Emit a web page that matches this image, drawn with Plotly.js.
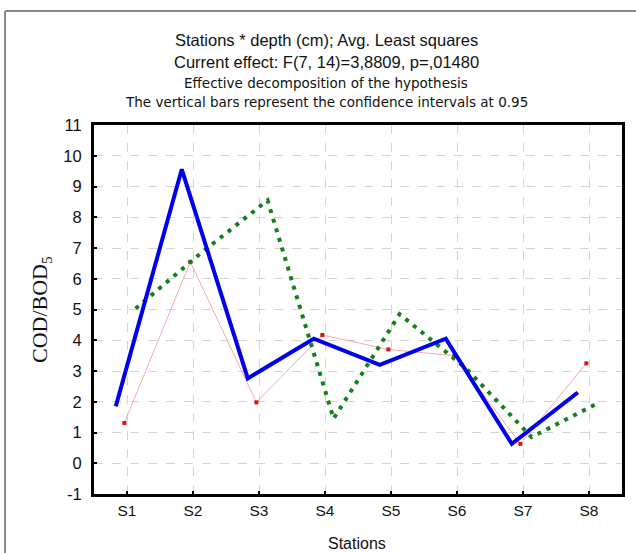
<!DOCTYPE html>
<html>
<head>
<meta charset="utf-8">
<script src="https://cdn.plot.ly/plotly-3.0.1.min.js"></script>
<style>html,body{margin:0;padding:0;background:#fff;}#chart{width:636px;height:553px;}</style>
</head>
<body>
<div id="chart"></div>
<script>
// ---- data ----
const stations = ['S1', 'S2', 'S3', 'S4', 'S5', 'S6', 'S7', 'S8'];
const seriesBlue  = [1.85, 9.56, 2.76, 4.05, 3.20, 4.05, 0.63, 2.30];
const seriesRed   = [1.31, 6.55, 1.98, 4.17, 3.70, 3.50, 0.63, 3.25];
const seriesGreen = [5.03, 6.85, 8.55, 1.45, 4.85, 3.10, 0.85, 1.95];
const yTicks = [-1, 0, 1, 2, 3, 4, 5, 6, 7, 8, 9, 10, 11];
const yTickText = ['-1', '0', '1', '2', '3', '4', '5', '6', '7', '8', '9', '10', '11'];
const titleLines = [
  'Stations * depth (cm); Avg. Least squares',
  'Current effect: F(7, 14)=3,8809, p=,01480',
  'Effective decomposition of the hypothesis',
  'The vertical bars represent the confidence intervals at 0.95'
];

// ---- layout constants ----
const W = 636, H = 553;
const M = {l: 94, r: 14, t: 125, b: 59};
const PW = W - M.l - M.r, PH = H - M.t - M.b;
const px = x => (x - M.l) / PW;
const py = y => (H - M.b - y) / PH;
const idx = stations.map((s, i) => i);
const shifted = d => idx.map(i => i + d);

const traces = [
  {x: shifted(-0.04), y: seriesRed, type: 'scatter', mode: 'lines+markers',
   line: {color: '#f4a0a0', width: 0.9},
   marker: {color: '#e01010', size: 4, symbol: 'square'}, hoverinfo: 'skip'},
  {x: shifted(0.13), y: seriesGreen, type: 'scatter', mode: 'lines',
   line: {color: '#15801a', width: 4, dash: '4px,6px'}, hoverinfo: 'skip'},
  {x: shifted(-0.17), y: seriesBlue, type: 'scatter', mode: 'lines',
   line: {color: '#0000ee', width: 4}, hoverinfo: 'skip'}
];

const titleY = [40, 62, 83, 102];
const titleSize = [16.5, 16.5, 13.5, 13.5];
const titleFont = ['Liberation Sans, Arial, sans-serif', 'Liberation Sans, Arial, sans-serif',
                   'DejaVu Sans, sans-serif', 'DejaVu Sans, sans-serif'];
const annotations = titleLines.map((t, i) => ({
  text: t, xref: 'paper', yref: 'paper', x: px(326), y: py(titleY[i]),
  xanchor: 'center', yanchor: 'middle', showarrow: false,
  font: {family: titleFont[i], size: titleSize[i], color: '#111'}
}));
annotations.push({
  text: 'COD/BOD<sub>5</sub>', xref: 'paper', yref: 'paper', x: px(41), y: py(310),
  xanchor: 'center', yanchor: 'middle', textangle: -90, showarrow: false,
  font: {family: 'Liberation Serif, Times New Roman, serif', size: 22, color: '#111'}
});
annotations.push({
  text: 'Stations', xref: 'paper', yref: 'paper', x: px(357), y: py(543),
  xanchor: 'center', yanchor: 'middle', showarrow: false,
  font: {family: 'Liberation Sans, Arial, sans-serif', size: 16, color: '#111'}
});

const layout = {
  width: W, height: H, margin: M, showlegend: false,
  paper_bgcolor: '#fff', plot_bgcolor: '#fff',
  font: {family: 'Liberation Sans, Arial, sans-serif', size: 15, color: '#111'},
  xaxis: {range: [-0.5, 7.5], tickvals: idx, ticktext: stations,
    tickfont: {size: 15.5},
    showgrid: true, gridcolor: '#d4d4d4', griddash: 'dash', gridwidth: 1,
    zeroline: false, showline: true, linecolor: '#000', linewidth: 3, mirror: true,
    ticks: 'inside', ticklen: 3, tickwidth: 2, tickcolor: '#000', ticklabelstandoff: 0},
  yaxis: {range: [-1, 11], tickvals: yTicks, ticktext: yTickText,
    tickfont: {size: 16.5},
    showgrid: true, gridcolor: '#d4d4d4', griddash: 'dash', gridwidth: 1,
    zeroline: false, showline: true, linecolor: '#000', linewidth: 3, mirror: true,
    ticks: 'inside', ticklen: 3, tickwidth: 2, tickcolor: '#000', ticklabelstandoff: 6},
  annotations: annotations,
  shapes: [
    {type: 'line', xref: 'paper', yref: 'paper', x0: px(5), x1: px(636), y0: py(11), y1: py(11),
     line: {color: '#8a8a8a', width: 2}},
    {type: 'line', xref: 'paper', yref: 'paper', x0: px(5), x1: px(5), y0: py(11), y1: py(553),
     line: {color: '#8a8a8a', width: 2}}
  ]
};

Plotly.newPlot('chart', traces, layout, {staticPlot: true, displayModeBar: false});
</script>
</body>
</html>
